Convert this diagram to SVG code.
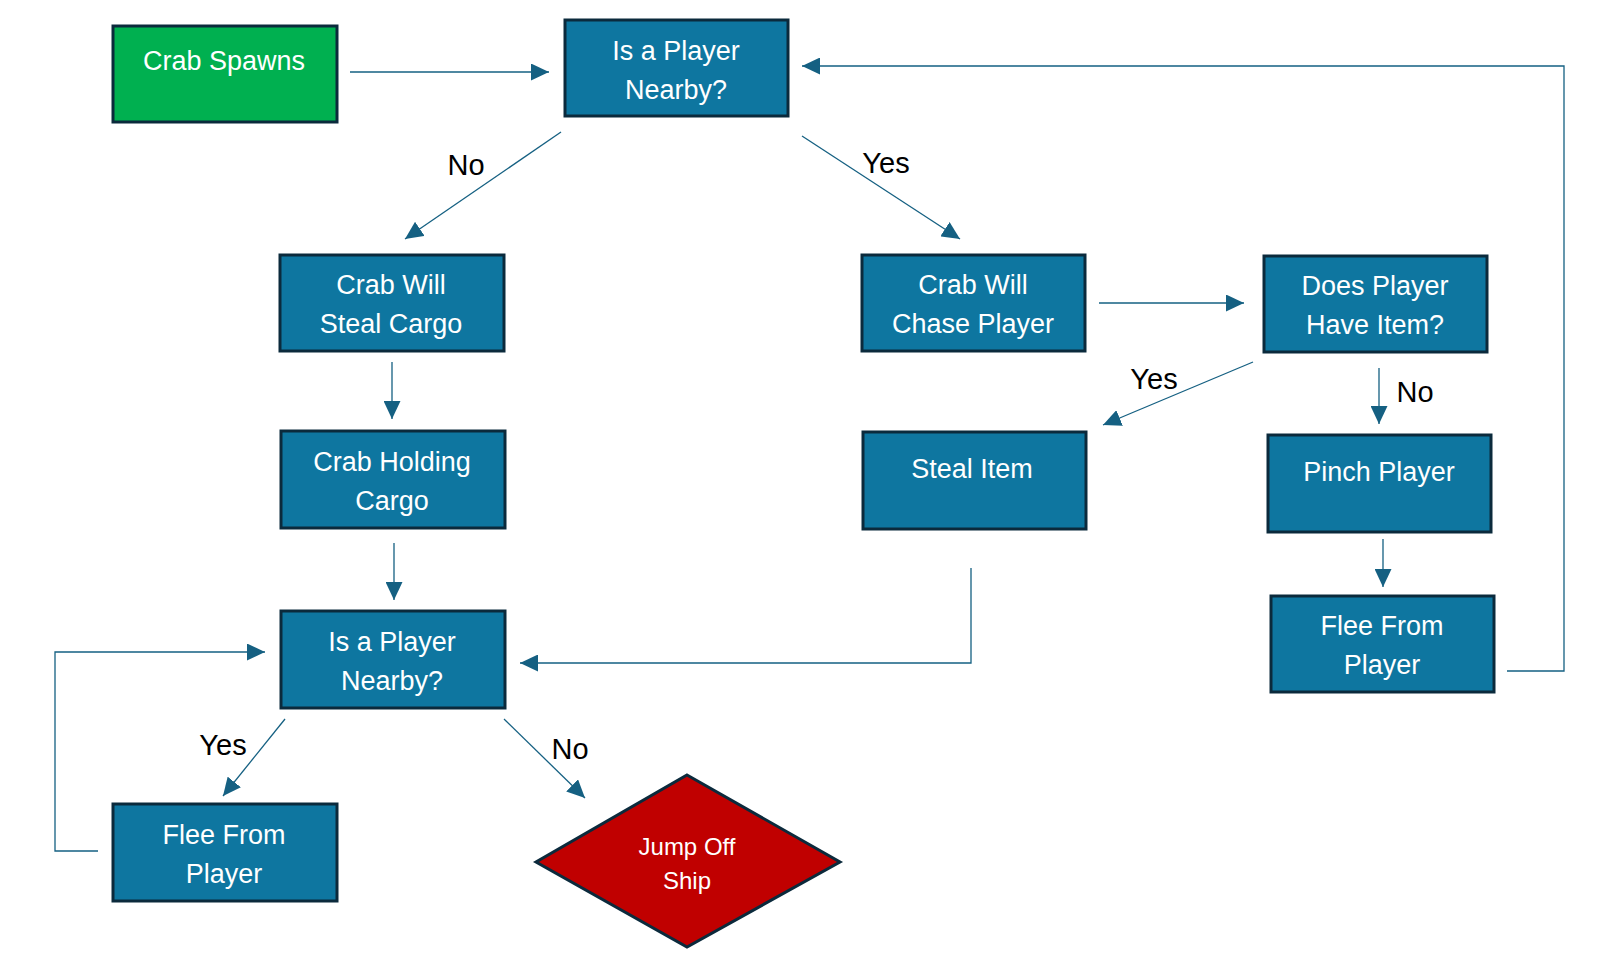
<svg xmlns="http://www.w3.org/2000/svg" width="1616" height="974" viewBox="0 0 1616 974">
<style>
.box{fill:#0E76A0;stroke:#0B2A3C;stroke-width:3}
.start{fill:#00B050;stroke:#0B2A3C;stroke-width:3}
.end{fill:#C00000;stroke:#0B2A3C;stroke-width:3}
.t{font-family:"Liberation Sans",Arial,sans-serif;font-size:27px;fill:#FFFFFF;text-anchor:middle}
.td{font-family:"Liberation Sans",Arial,sans-serif;font-size:24px;fill:#FFFFFF;text-anchor:middle}
.lbl{font-family:"Liberation Sans",Arial,sans-serif;font-size:29px;fill:#000000;text-anchor:middle}
.c{fill:none;stroke:#156082;stroke-width:1.3}
</style>
<defs>
<marker id="ah" markerUnits="userSpaceOnUse" markerWidth="18" markerHeight="17" refX="18" refY="8.5" orient="auto">
<path d="M0,0 L18,8.5 L0,17 z" fill="#156082"/>
</marker>
</defs>
<rect width="1616" height="974" fill="#FFFFFF"/>
<g id="connectors">
<line class="c" x1="350" y1="72" x2="549" y2="72" marker-end="url(#ah)"/>
<line class="c" x1="561" y1="132" x2="405" y2="239" marker-end="url(#ah)"/>
<line class="c" x1="802" y1="136" x2="960" y2="239" marker-end="url(#ah)"/>
<line class="c" x1="1099" y1="303" x2="1244" y2="303" marker-end="url(#ah)"/>
<line class="c" x1="1253" y1="362" x2="1103" y2="425" marker-end="url(#ah)"/>
<line class="c" x1="1379" y1="368" x2="1379" y2="424" marker-end="url(#ah)"/>
<line class="c" x1="1383" y1="539" x2="1383" y2="587" marker-end="url(#ah)"/>
<polyline class="c" points="1507,671 1564,671 1564,66 802,66" marker-end="url(#ah)"/>
<line class="c" x1="392" y1="362" x2="392" y2="419" marker-end="url(#ah)"/>
<line class="c" x1="394" y1="543" x2="394" y2="600" marker-end="url(#ah)"/>
<polyline class="c" points="971,568 971,663 520,663" marker-end="url(#ah)"/>
<line class="c" x1="285" y1="719" x2="223" y2="796" marker-end="url(#ah)"/>
<line class="c" x1="504" y1="719" x2="585" y2="798" marker-end="url(#ah)"/>
<polyline class="c" points="98,851 55,851 55,652 265,652" marker-end="url(#ah)"/>
<text class="lbl" x="466" y="175">No</text>
<text class="lbl" x="886" y="173">Yes</text>
<text class="lbl" x="1154" y="389">Yes</text>
<text class="lbl" x="1415" y="402">No</text>
<text class="lbl" x="223" y="755">Yes</text>
<text class="lbl" x="570" y="759">No</text>
</g>
<g id="crab-spawns">
<rect class="start" x="113" y="26" width="224" height="96"/>
<text class="t" x="224" y="70">Crab Spawns</text>
</g>
<g id="player-nearby-top">
<rect class="box" x="565" y="20" width="223" height="96"/>
<text class="t" x="676" y="60">Is a Player</text>
<text class="t" x="676" y="99">Nearby?</text>
</g>
<g id="steal-cargo">
<rect class="box" x="280" y="255" width="224" height="96"/>
<text class="t" x="391" y="294">Crab Will</text>
<text class="t" x="391" y="333">Steal Cargo</text>
</g>
<g id="chase-player">
<rect class="box" x="862" y="255" width="223" height="96"/>
<text class="t" x="973" y="294">Crab Will</text>
<text class="t" x="973" y="333">Chase Player</text>
</g>
<g id="have-item">
<rect class="box" x="1264" y="256" width="223" height="96"/>
<text class="t" x="1375" y="295">Does Player</text>
<text class="t" x="1375" y="334">Have Item?</text>
</g>
<g id="holding-cargo">
<rect class="box" x="281" y="431" width="224" height="97"/>
<text class="t" x="392" y="471">Crab Holding</text>
<text class="t" x="392" y="510">Cargo</text>
</g>
<g id="steal-item">
<rect class="box" x="863" y="432" width="223" height="97"/>
<text class="t" x="972" y="478">Steal Item</text>
</g>
<g id="pinch-player">
<rect class="box" x="1268" y="435" width="223" height="97"/>
<text class="t" x="1379" y="481">Pinch Player</text>
</g>
<g id="flee-right">
<rect class="box" x="1271" y="596" width="223" height="96"/>
<text class="t" x="1382" y="635">Flee From</text>
<text class="t" x="1382" y="674">Player</text>
</g>
<g id="player-nearby-bottom">
<rect class="box" x="281" y="611" width="224" height="97"/>
<text class="t" x="392" y="651">Is a Player</text>
<text class="t" x="392" y="690">Nearby?</text>
</g>
<g id="flee-left">
<rect class="box" x="113" y="804" width="224" height="97"/>
<text class="t" x="224" y="844">Flee From</text>
<text class="t" x="224" y="883">Player</text>
</g>
<g id="jump-off-ship">
<polygon class="end" points="687,775 840,862 687,947 536,862"/>
<text class="td" x="687" y="855">Jump Off</text>
<text class="td" x="687" y="889">Ship</text>
</g>
</svg>
